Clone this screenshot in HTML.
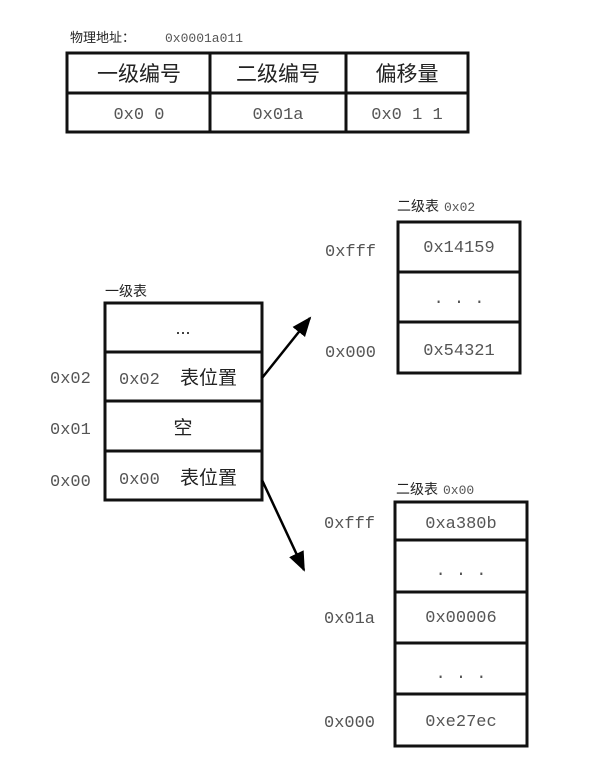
<!DOCTYPE html>
<html><head><meta charset="utf-8"><style>
body{margin:0;background:#fff}
svg{display:block}
.m{font-family:"Liberation Mono",monospace;fill:#555}
.c{font-family:"Liberation Sans","Noto Sans CJK SC",sans-serif;fill:#222}
</style></head><body>
<svg width="600" height="759" viewBox="0 0 600 759" xmlns="http://www.w3.org/2000/svg">
<defs><marker id="a" viewBox="0 0 10 10" refX="9" refY="5" markerWidth="7" markerHeight="7" markerUnits="userSpaceOnUse" orient="auto"><path d="M0,0L10,5L0,10z" fill="#000"/></marker>
<marker id="b" viewBox="0 0 10 10" refX="9" refY="5" markerWidth="8" markerHeight="8" orient="auto"><path d="M0,1L10,5L0,9z" fill="#000"/></marker></defs>
<g fill="none" stroke="#111" stroke-width="3">
<rect x="67" y="53" width="401" height="79"/>
<line x1="67" y1="93" x2="468" y2="93"/>
<line x1="210" y1="53" x2="210" y2="132"/>
<line x1="346" y1="53" x2="346" y2="132"/>
<rect x="105" y="303" width="157" height="197"/>
<line x1="105" y1="352" x2="262" y2="352"/>
<line x1="105" y1="401" x2="262" y2="401"/>
<line x1="105" y1="451" x2="262" y2="451"/>
<rect x="398" y="222" width="122" height="151"/>
<line x1="398" y1="272" x2="520" y2="272"/>
<line x1="398" y1="322" x2="520" y2="322"/>
<rect x="395" y="502" width="132" height="244"/>
<line x1="395" y1="540" x2="527" y2="540"/>
<line x1="395" y1="592" x2="527" y2="592"/>
<line x1="395" y1="643" x2="527" y2="643"/>
<line x1="395" y1="694" x2="527" y2="694"/>
</g>
<g stroke="#000" stroke-width="2.5">
<line x1="262" y1="378" x2="310" y2="318" marker-end="url(#b)"/>
<line x1="262" y1="480" x2="304" y2="570" marker-end="url(#b)"/>
</g>
<text class="c" x="70" y="42" font-size="13">物理地址：</text>
<text class="m" x="165" y="42" font-size="13" fill="#777">0x0001a011</text>
<g class="c" font-size="21" text-anchor="middle">
<text x="139" y="81">一级编号</text><text x="278" y="81">二级编号</text><text x="407" y="81">偏移量</text>
</g>
<g class="m" font-size="17" text-anchor="middle">
<text x="139" y="119" xml:space="preserve">0x0 0</text><text x="278" y="119">0x01a</text><text x="407" y="119" xml:space="preserve">0x0 1 1</text>
</g>
<text class="c" x="105" y="296" font-size="14">一级表</text>
<text class="c" x="183" y="334" font-size="18" text-anchor="middle">...</text>
<text class="m" x="119" y="384" font-size="17">0x02</text><text class="c" x="180" y="384" font-size="19">表位置</text>
<text class="c" x="183" y="434" font-size="19" text-anchor="middle">空</text>
<text class="m" x="119" y="484" font-size="17">0x00</text><text class="c" x="180" y="484" font-size="19">表位置</text>
<g class="m" font-size="17">
<text x="50" y="383">0x02</text><text x="50" y="434">0x01</text><text x="50" y="486">0x00</text>
<text x="325" y="256">0xfff</text><text x="325" y="357">0x000</text>
<text x="324" y="528">0xfff</text><text x="324" y="623">0x01a</text><text x="324" y="727">0x000</text>
</g>
<text class="c" x="397" y="211" font-size="14">二级表</text><text class="m" x="444" y="211" font-size="13" fill="#777">0x02</text>
<text class="c" x="396" y="494" font-size="14">二级表</text><text class="m" x="443" y="494" font-size="13" fill="#777">0x00</text>
<g class="m" font-size="17" text-anchor="middle">
<text x="459" y="252">0x14159</text><text x="459" y="303">. . .</text><text x="459" y="355">0x54321</text>
<text x="461" y="528">0xa380b</text><text x="461" y="575">. . .</text><text x="461" y="622">0x00006</text><text x="461" y="678">. . .</text><text x="461" y="726">0xe27ec</text>
</g>
</svg>
</body></html>
